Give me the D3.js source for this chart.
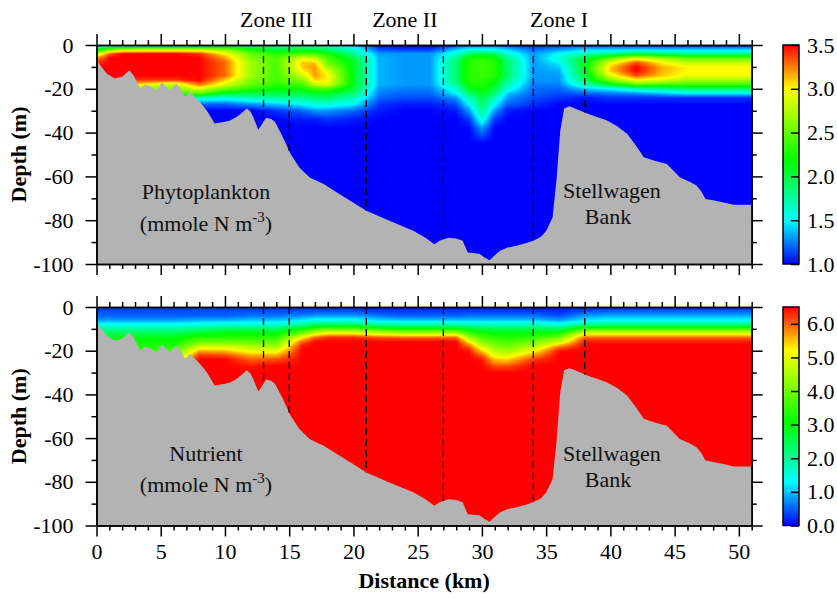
<!DOCTYPE html>
<html>
<head>
<meta charset="utf-8">
<script src="https://cdn.jsdelivr.net/npm/d3@7"></script>
<style>
  body { margin: 0; background: #fff; }
  text { font-family: "Liberation Serif", "Times New Roman", serif; }
</style>
</head>
<body>
<div id="chart"></div>
<script>
// grid the two fields are read on (km along section, m below surface)
const gridDist  = [0, 1, 2, 4, 6, 8, 10, 12, 14, 16, 17, 18, 20, 22, 24, 26, 28, 29, 30, 31, 32, 34, 36, 38, 40, 42, 44, 46, 48, 51]
const gridDepth = [0, 2, 4, 6, 8, 10, 12, 14, 16, 18, 20, 22, 24, 27, 30, 34, 38, 45, 100]

// phytoplankton, mmole N m-3, one row per depth level
const phyto = [
  [1.2,1.4,1.5,1.5,1.5,1.5,1.6,1.7,1.7,1.7,1.7,1.6,1.4,1.0,1.0,1.0,1.1,1.2,1.2,1.2,1.1,1.05,1.1,1.1,1.1,1.1,1.05,1.05,1.05,1.05],
  [2.0,2.5,2.7,2.8,2.8,2.8,2.6,2.2,2.0,2.0,2.0,1.9,1.6,1.15,1.1,1.1,1.4,1.5,1.5,1.5,1.4,1.2,1.3,1.4,1.4,1.4,1.4,1.4,1.4,1.4],
  [2.8,3.3,3.5,3.5,3.5,3.4,3.0,2.5,2.3,2.4,2.4,2.2,1.8,1.3,1.3,1.3,1.6,1.9,2.0,1.9,1.6,1.3,1.5,1.7,1.8,2.0,1.9,1.8,1.8,1.8],
  [3.2,3.5,3.5,3.5,3.5,3.5,3.2,2.6,2.4,2.9,2.8,2.4,2.0,1.35,1.3,1.3,1.8,2.2,2.3,2.2,1.8,1.3,1.6,2.0,2.5,2.9,2.7,2.5,2.5,2.5],
  [3.4,3.5,3.5,3.5,3.5,3.5,3.3,2.7,2.4,3.1,3.1,2.5,2.1,1.35,1.3,1.3,1.9,2.3,2.35,2.3,1.9,1.3,1.5,2.1,2.9,3.35,3.0,2.8,2.8,2.8],
  [3.5,3.5,3.5,3.5,3.5,3.5,3.3,2.7,2.4,3.1,3.2,2.7,2.1,1.35,1.3,1.3,1.9,2.3,2.35,2.3,1.9,1.3,1.4,2.1,3.1,3.5,3.15,3.0,3.0,3.0],
  [3.5,3.5,3.5,3.5,3.5,3.5,3.3,2.7,2.4,3.0,3.2,2.9,2.1,1.35,1.3,1.3,1.9,2.3,2.35,2.3,1.9,1.3,1.35,2.1,3.1,3.5,3.15,3.0,3.0,3.0],
  [3.5,3.5,3.5,3.5,3.5,3.5,3.3,2.7,2.4,2.8,3.2,3.0,2.1,1.35,1.3,1.3,1.9,2.3,2.35,2.3,1.9,1.3,1.3,2.0,2.9,3.35,3.1,2.95,2.95,2.95],
  [3.4,3.4,3.4,3.4,3.4,3.5,3.1,2.6,2.4,2.6,3.1,3.0,2.1,1.35,1.3,1.3,1.9,2.3,2.3,2.2,1.8,1.3,1.3,1.9,2.6,3.0,2.9,2.7,2.7,2.7],
  [3.2,3.2,3.2,3.0,2.8,3.3,2.9,2.5,2.3,2.4,2.8,2.9,2.1,1.35,1.3,1.3,1.8,2.2,2.3,2.1,1.7,1.25,1.25,1.7,2.1,2.5,2.4,2.4,2.4,2.4],
  [3.0,2.8,2.6,2.6,2.6,2.9,2.5,2.3,2.2,2.2,2.4,2.4,2.0,1.3,1.25,1.25,1.6,2.1,2.2,2.0,1.6,1.2,1.2,1.4,1.5,1.7,1.8,1.9,1.9,1.9],
  [2.8,2.6,2.4,2.3,2.3,2.5,2.1,2.0,2.0,2.0,2.1,2.1,1.9,1.25,1.2,1.2,1.5,1.9,2.1,1.9,1.4,1.2,1.15,1.2,1.25,1.3,1.4,1.5,1.5,1.5],
  [2.5,2.3,2.2,2.1,2.0,1.7,1.6,1.7,1.8,1.8,1.9,1.9,1.7,1.2,1.15,1.15,1.3,1.7,2.0,1.7,1.3,1.15,1.1,1.05,1.1,1.1,1.1,1.1,1.1,1.1],
  [2.2,2.0,1.9,1.8,1.6,1.2,1.2,1.3,1.4,1.5,1.6,1.6,1.5,1.1,1.05,1.05,1.15,1.5,1.9,1.5,1.2,1.1,1.0,1.0,1.0,1.0,1.0,1.0,1.0,1.0],
  [1.0,1.0,1.0,1.0,1.0,1.0,1.0,1.0,1.1,1.2,1.3,1.3,1.2,1.05,1.0,1.0,1.05,1.3,1.8,1.3,1.05,1.0,1.0,1.0,1.0,1.0,1.0,1.0,1.0,1.0],
  [1.0,1.0,1.0,1.0,1.0,1.0,1.0,1.0,1.0,1.05,1.05,1.1,1.05,1.0,1.0,1.0,1.0,1.1,1.6,1.1,1.0,1.0,1.0,1.0,1.0,1.0,1.0,1.0,1.0,1.0],
  [1.0,1.0,1.0,1.0,1.0,1.0,1.0,1.0,1.0,1.0,1.0,1.0,1.0,1.0,1.0,1.0,1.0,1.0,1.3,1.0,1.0,1.0,1.0,1.0,1.0,1.0,1.0,1.0,1.0,1.0],
  [1.0,1.0,1.0,1.0,1.0,1.0,1.0,1.0,1.0,1.0,1.0,1.0,1.0,1.0,1.0,1.0,1.0,1.0,1.0,1.0,1.0,1.0,1.0,1.0,1.0,1.0,1.0,1.0,1.0,1.0],
  [1.0,1.0,1.0,1.0,1.0,1.0,1.0,1.0,1.0,1.0,1.0,1.0,1.0,1.0,1.0,1.0,1.0,1.0,1.0,1.0,1.0,1.0,1.0,1.0,1.0,1.0,1.0,1.0,1.0,1.0]
]

// nutrient, mmole N m-3
const nutrient = [
  [0.3,0.3,0.3,0.3,0.3,0.3,0.3,0.3,0.2,0.2,0.2,0.2,0.2,0.1,0.1,0.1,0.1,0.1,0.1,0.1,0.1,0.1,0.1,0.2,0.2,0.2,0.2,0.2,0.2,0.2],
  [0.4,0.4,0.4,0.4,0.4,0.4,0.4,0.4,0.4,0.4,0.4,0.4,0.4,0.3,0.3,0.3,0.3,0.3,0.3,0.3,0.3,0.3,0.2,0.4,0.5,0.5,0.5,0.5,0.5,0.5],
  [0.5,0.5,0.5,0.5,0.5,0.5,0.5,0.6,0.6,0.7,0.8,0.8,0.8,0.6,0.5,0.5,0.5,0.6,0.6,0.6,0.6,0.6,0.4,0.8,0.9,0.9,0.9,0.9,0.9,0.9],
  [0.8,0.8,0.8,0.8,0.8,0.9,0.9,1.0,1.0,1.2,1.4,1.4,1.4,1.1,1.0,1.0,1.0,1.0,1.0,1.0,1.0,1.0,0.8,1.2,1.3,1.3,1.3,1.3,1.3,1.3],
  [1.4,1.4,1.4,1.4,1.4,1.5,1.6,1.6,1.6,2.0,2.4,2.4,2.4,2.0,1.9,1.9,1.9,1.8,1.8,1.8,1.8,1.8,1.5,2.1,2.2,2.2,2.2,2.2,2.2,2.2],
  [2.0,2.0,2.0,2.0,2.0,2.2,2.4,2.4,2.4,3.0,3.6,3.8,3.8,3.4,3.2,3.2,3.1,2.8,2.6,2.5,2.5,2.5,2.4,3.5,3.6,3.6,3.6,3.6,3.6,3.6],
  [2.5,2.5,2.5,2.5,2.5,2.8,3.0,3.0,3.0,4.0,4.8,5.2,5.2,4.8,4.6,4.6,4.6,3.6,3.2,3.0,3.0,3.1,3.2,5.0,5.0,5.0,5.0,5.0,5.0,5.0],
  [2.9,2.9,2.9,2.9,2.9,3.4,3.4,3.4,3.4,5.2,6.0,6.3,6.3,6.1,6.0,6.0,6.0,4.4,3.7,3.4,3.3,3.5,4.0,6.0,6.0,6.0,6.0,6.0,6.0,6.0],
  [3.1,3.1,3.1,3.1,3.1,4.0,4.0,3.9,3.9,6.0,6.5,6.5,6.5,6.5,6.5,6.5,6.5,5.3,4.2,3.8,3.7,4.0,4.8,6.4,6.4,6.4,6.4,6.4,6.4,6.4],
  [3.3,3.3,3.3,3.3,3.3,4.8,4.8,4.5,4.4,6.4,6.5,6.5,6.5,6.5,6.5,6.5,6.5,6.0,4.8,4.2,4.0,4.5,5.8,6.5,6.5,6.5,6.5,6.5,6.5,6.5],
  [3.4,3.4,3.4,3.4,3.6,5.6,5.5,5.0,5.0,6.5,6.5,6.5,6.5,6.5,6.5,6.5,6.5,6.4,5.4,4.6,4.4,5.1,6.4,6.5,6.5,6.5,6.5,6.5,6.5,6.5],
  [3.5,3.5,3.5,3.5,4.0,6.2,6.1,5.6,5.6,6.5,6.5,6.5,6.5,6.5,6.5,6.5,6.5,6.5,6.0,5.0,4.9,5.7,6.5,6.5,6.5,6.5,6.5,6.5,6.5,6.5],
  [3.6,3.6,3.6,3.6,4.5,6.5,6.5,6.0,6.1,6.5,6.5,6.5,6.5,6.5,6.5,6.5,6.5,6.5,6.4,5.5,5.4,6.2,6.5,6.5,6.5,6.5,6.5,6.5,6.5,6.5],
  [3.8,3.8,3.8,3.8,5.0,6.5,6.5,6.4,6.5,6.5,6.5,6.5,6.5,6.5,6.5,6.5,6.5,6.5,6.5,6.1,6.1,6.5,6.5,6.5,6.5,6.5,6.5,6.5,6.5,6.5],
  [6.5,6.5,6.5,6.5,6.5,6.5,6.5,6.5,6.5,6.5,6.5,6.5,6.5,6.5,6.5,6.5,6.5,6.5,6.5,6.5,6.5,6.5,6.5,6.5,6.5,6.5,6.5,6.5,6.5,6.5],
  [6.5,6.5,6.5,6.5,6.5,6.5,6.5,6.5,6.5,6.5,6.5,6.5,6.5,6.5,6.5,6.5,6.5,6.5,6.5,6.5,6.5,6.5,6.5,6.5,6.5,6.5,6.5,6.5,6.5,6.5],
  [6.5,6.5,6.5,6.5,6.5,6.5,6.5,6.5,6.5,6.5,6.5,6.5,6.5,6.5,6.5,6.5,6.5,6.5,6.5,6.5,6.5,6.5,6.5,6.5,6.5,6.5,6.5,6.5,6.5,6.5],
  [6.5,6.5,6.5,6.5,6.5,6.5,6.5,6.5,6.5,6.5,6.5,6.5,6.5,6.5,6.5,6.5,6.5,6.5,6.5,6.5,6.5,6.5,6.5,6.5,6.5,6.5,6.5,6.5,6.5,6.5],
  [6.5,6.5,6.5,6.5,6.5,6.5,6.5,6.5,6.5,6.5,6.5,6.5,6.5,6.5,6.5,6.5,6.5,6.5,6.5,6.5,6.5,6.5,6.5,6.5,6.5,6.5,6.5,6.5,6.5,6.5]
]

// sea floor along the section
const bathyDist  = [0, 0.4, 0.8, 1.4, 2.0, 2.55, 2.9, 3.4, 3.8, 4.2, 4.7, 5.1, 5.4, 5.7, 6.2, 6.6, 6.9, 7.3, 7.6, 8.05, 8.6, 9.2, 9.9, 10.4, 10.9, 11.3, 11.7, 12.0, 12.2, 12.6, 12.9, 13.2, 13.6, 13.9, 14.5, 15.1, 15.8, 16.6, 17.65, 18.9, 20, 21, 22.8, 24.7, 25.6, 26.3, 26.7, 27.4, 28.0, 28.5, 28.9, 29.8, 30.2, 30.6, 31.0, 31.4, 32.0, 32.7, 33.4, 34.0, 34.6, 35.0, 35.5, 35.8, 36.1, 36.4, 36.8, 37.1, 38.2, 39.0, 39.7, 40.5, 41.3, 42.0, 42.6, 43.5, 44.4, 45.4, 46.2, 46.7, 47.1, 47.4, 48.1, 48.8, 49.6, 51]
const bathyDepth = [7, 10, 13, 15.3, 14.5, 11.5, 14, 19.9, 18, 19, 20.6, 17, 19, 20.6, 17.6, 20.5, 23.7, 21.4, 23.5, 26, 30, 35.9, 35.2, 34.5, 32.9, 31, 29, 30.5, 32.9, 38.7, 36, 33.2, 33.8, 35.2, 42, 49.7, 56, 60.5, 63.4, 68, 72, 75.7, 80.3, 84.9, 88, 91, 89.4, 88, 88.3, 89.4, 94.8, 95.3, 97, 98.3, 96, 94, 92.5, 91.7, 90.5, 89.4, 87.5, 84.9, 78.8, 62, 39, 29, 28, 28.6, 31.3, 33, 34.4, 37, 40.5, 46, 51.2, 53, 54.3, 60.4, 62.5, 64.2, 67, 70.3, 71, 71.9, 73, 73]

const zoneLines = [13, 15, 21, 27, 34, 38]
const zoneNames = ["Zone III", "Zone II", "Zone I"]
const zoneCenters = [14, 24, 36]

const depthTicks = [0, 20, 40, 60, 80, 100]
const depthMinor = [10, 30, 50, 70, 90]
const distTicks = d3.range(0, 51, 5)
const distMinor = d3.range(0, 52).filter(d => d % 5 !== 0)
const phytoTicks = [1.0, 1.5, 2.0, 2.5, 3.0, 3.5]
const nutrientTicks = [0, 1, 2, 3, 4, 5, 6]

// rainbow colour map
const stopPos = [0, 0.2, 0.47, 0.8, 1]
const stopColors = ["#0000ff", "#00ffff", "#00ff00", "#ffff00", "#ff0000"]

const serif = '"Liberation Serif", "Times New Roman", serif'

const svg = d3.select("#chart").append("svg")
  .attr("width", 837).attr("height", 598)
  .style("display", "block")

const x = d3.scaleLinear().domain([0, 51]).range([96.5, 751.7])
const floorAt = d3.scaleLinear().domain(bathyDist).range(bathyDepth)

const panels = [
  {top: 45, bottom: 264, field: phyto, domain: [1, 3.5], ticks: phytoTicks,
   name: "Phytoplankton", nameY: 199, unitY: 231, bankY: [198, 224], labelX: 206},
  {top: 307, bottom: 525.5, field: nutrient, domain: [0, 6.5], ticks: nutrientTicks,
   name: "Nutrient", nameY: 461, unitY: 492, bankY: [461, 487], labelX: 206}
]

// bilinear read of a field on the grid
function sample(field, km, dep) {
  let i = d3.bisectRight(gridDist, km) - 1
  i = Math.max(0, Math.min(gridDist.length - 2, i))
  let j = d3.bisectRight(gridDepth, dep) - 1
  j = Math.max(0, Math.min(gridDepth.length - 2, j))
  const tx = Math.max(0, Math.min(1, (km - gridDist[i]) / (gridDist[i + 1] - gridDist[i])))
  const ty = Math.max(0, Math.min(1, (dep - gridDepth[j]) / (gridDepth[j + 1] - gridDepth[j])))
  const a = field[j][i], b = field[j][i + 1], c = field[j + 1][i], d = field[j + 1][i + 1]
  return a * (1 - tx) * (1 - ty) + b * tx * (1 - ty) + c * (1 - tx) * ty + d * tx * ty
}

const defs = svg.append("defs")

panels.forEach((p, k) => {
  const y = d3.scaleLinear().domain([0, 100]).range([p.top, p.bottom])
  const [lo, hi] = p.domain
  const color = d3.scaleLinear()
    .domain(stopPos.map(t => lo + t * (hi - lo)))
    .range(stopColors)
    .interpolate(d3.interpolateRgb)
    .clamp(true)

  // field raster
  const x0 = x(0), pw = Math.round(x(51) - x(0)), ph = Math.round(p.bottom - p.top)
  const canvas = document.createElement("canvas")
  canvas.width = pw; canvas.height = ph
  const ctx = canvas.getContext("2d")
  const img = ctx.createImageData(pw, ph)
  for (let j = 0; j < ph; j++) {
    const dep = y.invert(p.top + (j + 0.5) * (p.bottom - p.top) / ph)
    for (let i = 0; i < pw; i++) {
      const km = x.invert(x0 + (i + 0.5) * (x(51) - x0) / pw)
      const c = d3.rgb(color(sample(p.field, km, dep)))
      const o = (j * pw + i) * 4
      img.data[o] = c.r; img.data[o + 1] = c.g; img.data[o + 2] = c.b; img.data[o + 3] = 255
    }
  }
  ctx.putImageData(img, 0, 0)

  const g = svg.append("g")
  g.append("image")
    .attr("x", x0).attr("y", p.top)
    .attr("width", x(51) - x0).attr("height", p.bottom - p.top)
    .attr("preserveAspectRatio", "none")
    .attr("href", canvas.toDataURL())

  // sea floor
  const area = d3.area()
    .x(d => x(d[0]))
    .y0(p.bottom)
    .y1(d => y(d[1]))
  g.append("path")
    .datum(bathyDist.map((d, i) => [d, bathyDepth[i]]))
    .attr("d", area)
    .attr("fill", "#b3b3b3")

  // zone boundaries
  g.selectAll(".zone")
    .data(zoneLines)
    .join("line")
    .attr("x1", d => x(d)).attr("x2", d => x(d))
    .attr("y1", y(0)).attr("y2", d => y(floorAt(d)))
    .attr("stroke", "#000")
    .attr("stroke-width", 1.3)
    .attr("stroke-dasharray", "7,4")

  // panel labels
  const lab = g.append("g").attr("font-size", 22).attr("font-family", serif).attr("fill", "#111")
  lab.append("text").attr("x", p.labelX).attr("y", p.nameY).attr("text-anchor", "middle").text(p.name)
  const unit = lab.append("text").attr("x", p.labelX).attr("y", p.unitY).attr("text-anchor", "middle")
  unit.append("tspan").text("(mmole N m")
  unit.append("tspan").attr("dy", -9).attr("font-size", 15).text("-3")
  unit.append("tspan").attr("dy", 9).text(")")
  lab.append("text").attr("x", 612).attr("y", p.bankY[0]).attr("text-anchor", "middle").text("Stellwagen")
  lab.append("text").attr("x", 608).attr("y", p.bankY[1]).attr("text-anchor", "middle").text("Bank")

  // axes
  const styleAxis = sel => {
    sel.selectAll("path, line").attr("stroke", "#000").attr("stroke-width", 1.5)
    sel.selectAll("text").attr("font-size", 22).attr("font-family", serif).attr("fill", "#000")
  }
  g.append("g").attr("transform", `translate(${x(0)},0)`)
    .call(d3.axisLeft(y).tickValues(depthTicks).tickSize(11).tickSizeOuter(0).tickPadding(12)
      .tickFormat(d => d === 0 ? "0" : "-" + d))
    .call(styleAxis)
  g.append("g").attr("transform", `translate(${x(0)},0)`)
    .call(d3.axisLeft(y).tickValues(depthMinor).tickSize(5).tickSizeOuter(0).tickFormat(""))
    .call(styleAxis)
  g.append("g").attr("transform", `translate(${x(51)},0)`)
    .call(d3.axisRight(y).tickValues(depthTicks).tickSize(11).tickSizeOuter(0).tickFormat(""))
    .call(styleAxis)
  g.append("g").attr("transform", `translate(${x(51)},0)`)
    .call(d3.axisRight(y).tickValues(depthMinor).tickSize(5).tickSizeOuter(0).tickFormat(""))
    .call(styleAxis)
  g.append("g").attr("transform", `translate(0,${p.top})`)
    .call(d3.axisTop(x).tickValues(distTicks).tickSize(11).tickSizeOuter(0).tickFormat(""))
    .call(styleAxis)
  g.append("g").attr("transform", `translate(0,${p.top})`)
    .call(d3.axisTop(x).tickValues(distMinor).tickSize(5).tickSizeOuter(0).tickFormat(""))
    .call(styleAxis)
  g.append("g").attr("transform", `translate(0,${p.bottom})`)
    .call(d3.axisBottom(x).tickValues(distTicks).tickSize(11).tickSizeOuter(0).tickPadding(7)
      .tickFormat(k === 1 ? d3.format("d") : ""))
    .call(styleAxis)
  g.append("g").attr("transform", `translate(0,${p.bottom})`)
    .call(d3.axisBottom(x).tickValues(distMinor).tickSize(5).tickSizeOuter(0).tickFormat(""))
    .call(styleAxis)

  g.append("text")
    .attr("transform", `translate(26,${(p.top + p.bottom) / 2}) rotate(-90)`)
    .attr("text-anchor", "middle")
    .attr("font-size", 22).attr("font-weight", "bold").attr("font-family", serif)
    .text("Depth (m)")

  // colour bar
  const gradId = "grad" + k
  const grad = defs.append("linearGradient").attr("id", gradId)
    .attr("x1", 0).attr("y1", 1).attr("x2", 0).attr("y2", 0)
  grad.selectAll("stop").data(stopPos).join("stop")
    .attr("offset", d => d)
    .attr("stop-color", (d, i) => stopColors[i])
  const cy = d3.scaleLinear().domain(p.domain).range([p.bottom, p.top])
  const cb = svg.append("g")
  cb.append("rect")
    .attr("x", 783).attr("y", p.top).attr("width", 16).attr("height", p.bottom - p.top)
    .attr("fill", `url(#${gradId})`)
  cb.append("g").attr("transform", "translate(799,0)")
    .call(d3.axisRight(cy).tickValues(p.ticks).tickSize(-8).tickPadding(8).tickFormat(d3.format(".1f")))
    .call(styleAxis)
    .call(s => s.select(".domain").remove())
  cb.append("rect")
    .attr("x", 783).attr("y", p.top).attr("width", 16).attr("height", p.bottom - p.top)
    .attr("fill", "none").attr("stroke", "#000").attr("stroke-width", 1.5)
})

// zone names
svg.selectAll(".zname")
  .data(zoneNames)
  .join("text")
  .attr("x", (d, i) => x(zoneCenters[i]))
  .attr("y", 27)
  .attr("text-anchor", "middle")
  .attr("font-size", 22).attr("font-family", serif)
  .text(d => d)

svg.append("text")
  .attr("x", (x(0) + x(51)) / 2)
  .attr("y", 588)
  .attr("text-anchor", "middle")
  .attr("font-size", 22).attr("font-weight", "bold").attr("font-family", serif)
  .text("Distance (km)")
</script>
</body>
</html>
